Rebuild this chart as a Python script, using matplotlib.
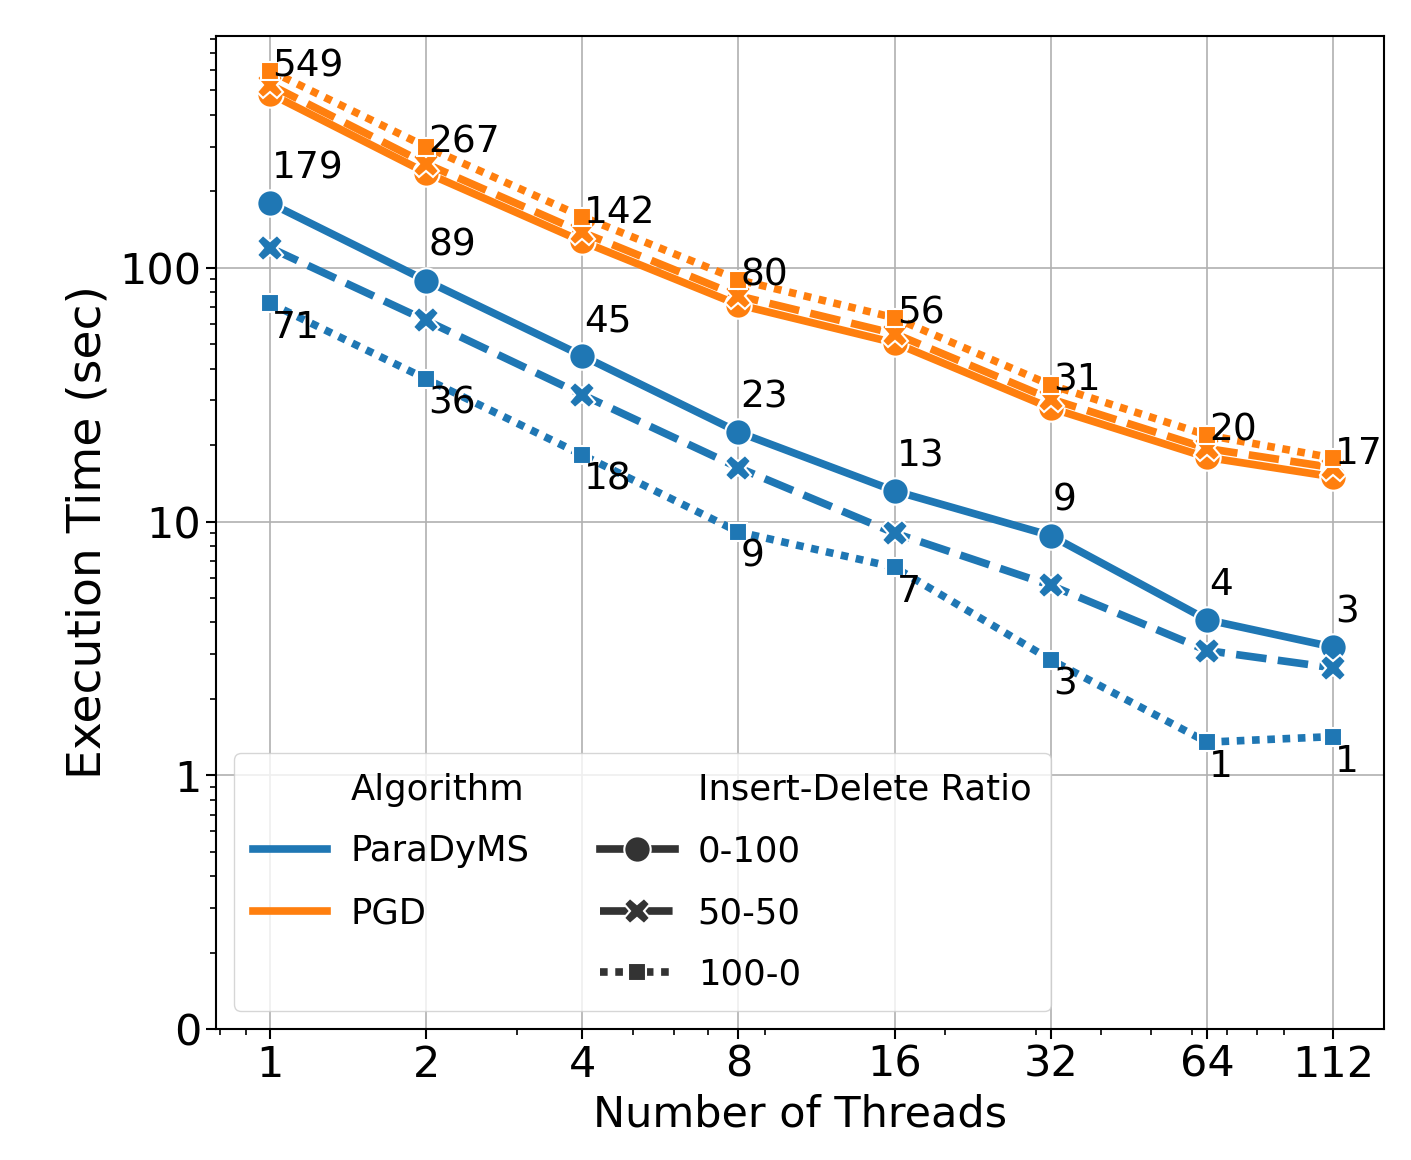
import matplotlib
matplotlib.use('Agg')
import matplotlib.pyplot as plt
from matplotlib.lines import Line2D
from matplotlib.ticker import FixedLocator, FixedFormatter, NullFormatter, LogLocator

# Dados
threads = [1, 2, 4, 8, 16, 32, 64, 112]

para_0_100 = [180, 89, 45, 22.5, 13.2, 8.8, 4.1, 3.2]
para_50_50 = [120, 62, 31.6, 16.3, 9.0, 5.6, 3.1, 2.65]
para_100_0 = [72.5, 36.5, 18.3, 9.1, 6.6, 2.85, 1.35, 1.42]

pgd_0_100 = [486, 237, 127, 71.5, 50.6, 28.0, 17.9, 15.0]
pgd_50_50 = [527, 257, 138, 77.5, 55.0, 30.4, 19.4, 16.3]
pgd_100_0 = [599, 300, 159, 89.7, 63.5, 34.5, 21.9, 17.8]

labels_para_top = ['179', '89', '45', '23', '13', '9', '4', '3']
labels_para_bottom = ['71', '36', '18', '9', '7', '3', '1', '1']
labels_pgd = ['549', '267', '142', '80', '56', '31', '20', '17']

xtick_labels = ['1', '2', '4', '8', '16', '32', '64', '112']
yticks = [0.1, 1, 10, 100]
ytick_labels = ['0', '1', '10', '100']

algorithms = ['ParaDyMS', 'PGD']
ratios = ['0-100', '50-50', '100-0']

azul = '#1f77b4'
laranja = '#ff7f0e'
estilos = {'0-100': ('o', '-'), '50-50': ('X', (0, (4, 1.5))), '100-0': ((4, 0, 45), (0, (1, 1)))}

fig = plt.figure(figsize=(14.11, 11.6), dpi=100)
ax = fig.add_axes([0.153, 0.113, 0.828, 0.856])

lw = 5.5
ms = 19

series = [
    (azul, '0-100', para_0_100),
    (azul, '50-50', para_50_50),
    (azul, '100-0', para_100_0),
    (laranja, '0-100', pgd_0_100),
    (laranja, '50-50', pgd_50_50),
    (laranja, '100-0', pgd_100_0),
]
for cor, ratio, vals in series:
    mk, ls = estilos[ratio]
    ax.plot(threads, vals, color=cor, linestyle=ls, linewidth=lw, marker=mk,
            markersize=ms, markeredgecolor='white', markeredgewidth=1.5, zorder=3)

# Rótulos dos valores
for x, y, t in zip(threads, para_0_100, labels_para_top):
    ax.annotate(t, (x, y), xytext=(1.5, 25), textcoords='offset points',
                ha='left', va='center', fontsize=27, zorder=5)
for x, y, t in zip(threads, para_100_0, labels_para_bottom):
    ax.annotate(t, (x, y), xytext=(1.5, -18), textcoords='offset points',
                ha='left', va='center', fontsize=27, zorder=5)
for x, y, t in zip(threads, pgd_100_0, labels_pgd):
    ax.annotate(t, (x, y), xytext=(1.5, 3), textcoords='offset points',
                ha='left', va='center', fontsize=27, zorder=5)

ax.set_xscale('log')
ax.set_yscale('log')
ax.set_xlim(0.787, 140.5)
ax.set_ylim(0.1, 820)

ax.xaxis.set_major_locator(FixedLocator(threads))
ax.xaxis.set_major_formatter(FixedFormatter(xtick_labels))
ax.xaxis.set_minor_locator(LogLocator(base=10, subs=range(2, 10)))
ax.xaxis.set_minor_formatter(NullFormatter())
ax.yaxis.set_major_locator(FixedLocator(yticks))
ax.yaxis.set_major_formatter(FixedFormatter(ytick_labels))
ax.yaxis.set_minor_locator(LogLocator(base=10, subs=range(2, 10)))
ax.yaxis.set_minor_formatter(NullFormatter())

ax.tick_params(axis='both', which='major', labelsize=31, length=7, width=1.5)
ax.tick_params(axis='both', which='minor', length=4, width=1.2)
ax.grid(True, which='major', color='#b0b0b0', linewidth=1.2, zorder=0)
for s in ax.spines.values():
    s.set_linewidth(1.5)
    s.set_color('black')

ax.set_xlabel('Number of Threads', fontsize=31, labelpad=6)
ax.set_ylabel('Execution Time (sec)', fontsize=34, labelpad=6)

# Legenda estilo seaborn
h = [Line2D([], [], linestyle='none', label='Algorithm'),
     Line2D([], [], color=azul, linewidth=lw, label='ParaDyMS'),
     Line2D([], [], color=laranja, linewidth=lw, label='PGD'),
     Line2D([], [], linestyle='none', label=' ')]
h.append(Line2D([], [], linestyle='none', label='Insert-Delete Ratio'))
for r in ratios:
    mk, ls = estilos[r]
    h.append(Line2D([], [], color='#333333', linestyle=ls, linewidth=lw, marker=mk,
                    markersize=ms, markeredgecolor='white', markeredgewidth=1.5, label=r))
ax.legend(handles=h, loc='lower left', ncol=2, fontsize=25.5, handlelength=2.1,
          handletextpad=0.65, labelspacing=0.78, borderpad=0.55, framealpha=0.8)

fig.savefig('out.png', dpi=100)
